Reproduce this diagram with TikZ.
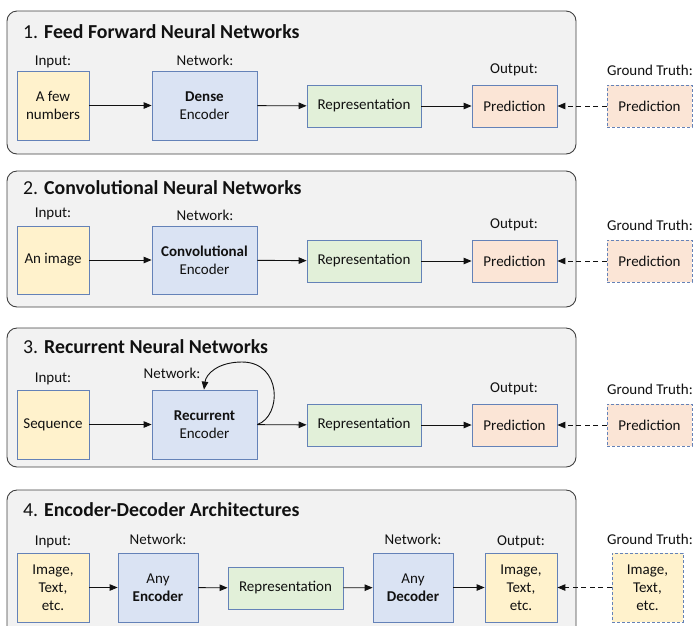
\documentclass[tikz,border=0pt]{standalone}
\usepackage{fontspec}
\setmainfont{Carlito}
\usetikzlibrary{arrows.meta}
\definecolor{panelbg}{HTML}{F2F2F2}
\definecolor{paneldraw}{HTML}{404040}
\definecolor{bordblue}{HTML}{6482B8}
\definecolor{fyellow}{HTML}{FFF2CC}
\definecolor{fblue}{HTML}{DAE3F3}
\definecolor{fgreen}{HTML}{E2F0D9}
\definecolor{fpeach}{HTML}{FBE5D6}
\definecolor{txt}{HTML}{111111}
\begin{document}
\begin{tikzpicture}[x=1pt,y=-1pt,
  font=\fontsize{15pt}{18pt}\selectfont, text=txt,
  panel/.style={draw=paneldraw, fill=panelbg, rounded corners=10pt, line width=0.9pt},
  box/.style={draw=bordblue, line width=0.8pt, align=center, inner sep=0pt},
  inbox/.style={box, fill=fyellow, minimum width=72pt, minimum height=69pt},
  encbox/.style={box, fill=fblue, minimum width=105pt, minimum height=69pt},
  repbox/.style={box, fill=fgreen, minimum width=114pt, minimum height=42pt},
  predbox/.style={box, fill=fpeach, minimum width=85pt, minimum height=42pt},
  gtbox/.style={predbox, dashed, dash pattern=on 3pt off 2pt},
  lbl/.style={inner sep=0pt},
  ttl/.style={anchor=west, inner sep=0pt, font=\fontsize{19.8pt}{22pt}\selectfont},
  arr/.style={-{Triangle[length=8pt,width=6.5pt]}, line width=0.9pt, draw=txt},
  darr/.style={arr, dashed, dash pattern=on 5pt off 3.5pt}
]
\useasboundingbox (0,0) rectangle (693,625);
\clip (0,0) rectangle (693,625);
% panels
\draw[panel] (7,11) rectangle (576,154);
\draw[panel] (7,171) rectangle (576,307);
\draw[panel] (7,328) rectangle (576,467);
\draw[panel] (7,490) rectangle (576,660);

% Panel 1
\node[ttl] (t1) at (23,32) {1. \textbf{Feed Forward Neural Networks}};
\node[inbox] (in1) at (53,105.5) {A few\\numbers};
\node[encbox] (enc1) at (204.5,105.5) {\textbf{Dense}\\Encoder};
\node[repbox] (rep1) at (364,106) {Representation};
\node[predbox] (pred1) at (514.5,106) {Prediction};
\node[gtbox] (gt1) at (649.5,106) {Prediction};
\node[lbl] (li1) at (53,62) {Input:};
\node[lbl] (ln1) at (205,60) {Network:};
\node[lbl] (lo1) at (514,70) {Output:};
\node[lbl] (lg1) at (650,70) {Ground Truth:};
\draw[arr] (in1) -- (enc1);
\draw[arr] (enc1) -- (rep1);
\draw[arr] (rep1) -- (pred1);
\draw[darr] (gt1) -- (pred1);

% Panel 2
\node[ttl] (t2) at (23,188) {2. \textbf{Convolutional Neural Networks}};
\node[inbox, minimum height=68pt] (in2) at (53,260) {An image};
\node[encbox, minimum height=68pt] (enc2) at (204.5,260) {\textbf{Convolutional}\\Encoder};
\node[repbox] (rep2) at (364,261) {Representation};
\node[predbox] (pred2) at (514.5,261) {Prediction};
\node[gtbox] (gt2) at (649.5,261) {Prediction};
\node[lbl] (li2) at (53,214) {Input:};
\node[lbl] (ln2) at (205,215) {Network:};
\node[lbl] (lo2) at (514,225) {Output:};
\node[lbl] (lg2) at (650,225) {Ground Truth:};
\draw[arr] (in2) -- (enc2);
\draw[arr] (enc2) -- (rep2);
\draw[arr] (rep2) -- (pred2);
\draw[darr] (gt2) -- (pred2);

% Panel 3
\node[ttl] (t3) at (23,347) {3. \textbf{Recurrent Neural Networks}};
\node[inbox] (in3) at (53,424.5) {Sequence};
\node[encbox] (enc3) at (204.5,424.5) {\textbf{Recurrent}\\Encoder};
\node[repbox] (rep3) at (364,425) {Representation};
\node[predbox] (pred3) at (514.5,425) {Prediction};
\node[gtbox] (gt3) at (649.5,425) {Prediction};
\node[lbl] (li3) at (53,379) {Input:};
\node[lbl] (ln3) at (172,373) {Network:};
\node[lbl] (lo3) at (514,389) {Output:};
\node[lbl] (lg3) at (650,389) {Ground Truth:};
\draw[arr] (in3) -- (enc3);
\draw[arr] (enc3) -- (rep3);
\draw[arr] (rep3) -- (pred3);
\draw[darr] (gt3) -- (pred3);
\coordinate (lp) at (242,362);
\draw[arr] (enc3.east) .. controls (282,416) and (282,362) .. (lp) .. controls (218,362) and (206,374) .. ([xshift=-0.5pt]enc3.north);

% Panel 4
\node[ttl] (t4) at (23,510) {4. \textbf{Encoder-Decoder Architectures}};
\node[inbox] (in4) at (53,587.5) {Image,\\Text,\\etc.};
\node[encbox, minimum width=80pt] (enc4) at (158,587.5) {Any\\\textbf{Encoder}};
\node[repbox, minimum width=115pt] (rep4) at (285.5,588) {Representation};
\node[encbox, minimum width=80pt] (dec4) at (413,587.5) {Any\\\textbf{Decoder}};
\node[inbox] (out4) at (521,587.5) {Image,\\Text,\\etc.};
\node[inbox, dashed, dash pattern=on 3pt off 2pt, minimum width=71pt] (gt4) at (647.5,587.5) {Image,\\Text,\\etc.};
\node[lbl] (li4) at (53,542) {Input:};
\node[lbl] (ln4a) at (158,539) {Network:};
\node[lbl] (ln4b) at (413,539) {Network:};
\node[lbl] (lo4) at (521,542) {Output:};
\node[lbl] (lg4) at (650,539) {Ground Truth:};
\draw[arr] (in4) -- (enc4);
\draw[arr] (enc4) -- (rep4);
\draw[arr] (rep4) -- (dec4);
\draw[arr] (dec4) -- (out4);
\draw[darr] (gt4) -- (out4);
\end{tikzpicture}
\end{document}
